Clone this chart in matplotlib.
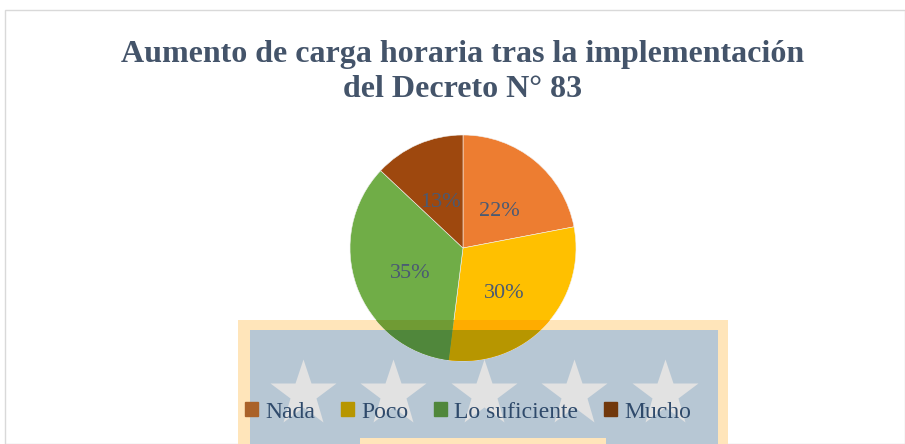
import matplotlib.pyplot as plt
from matplotlib.patches import Rectangle
import matplotlib.colors as mcolors

categorias = ["Nada", "Poco", "Lo suficiente", "Mucho"]
porcentajes = [22, 30, 35, 13]
colores = ["#ED7D31", "#FFC000", "#70AD47", "#9E480E"]
titulo = "Aumento de carga horaria tras la implementación\ndel Decreto N° 83"

W, H = 905, 444
plt.rcParams["font.family"] = ["Liberation Serif", "DejaVu Serif"]
fig = plt.figure(figsize=(W / 100, H / 100), dpi=100)


def fx(px):
    return px / W


def fy(py):
    return 1 - py / H


# marco del gráfico
fig.patches.append(Rectangle((fx(5), 0), fx(905) - fx(5), fy(10), transform=fig.transFigure,
                             facecolor="white", edgecolor="#D9D9D9", lw=1, zorder=-5))

# marca de agua (fondo)
naranja_claro = "#FFE5BA"
azul = "#B7C7D4"
fig.patches.append(Rectangle((fx(238), 0), fx(728) - fx(238), fy(320), transform=fig.transFigure,
                             facecolor=naranja_claro, edgecolor="none", zorder=-4))
fig.patches.append(Rectangle((fx(250), 0), fx(718) - fx(250), fy(330), transform=fig.transFigure,
                             facecolor=azul, edgecolor="none", zorder=-3))
fig.patches.append(Rectangle((fx(360), 0), fx(606) - fx(360), fy(438), transform=fig.transFigure,
                             facecolor=naranja_claro, edgecolor="none", zorder=-2))

ax_bg = fig.add_axes([0, 0, 1, 1])
ax_bg.set_xlim(0, W)
ax_bg.set_ylim(H, 0)
ax_bg.axis("off")
ax_bg.patch.set_alpha(0)
for x in [303, 393, 484, 574, 665]:
    ax_bg.plot(x, 394, marker="*", markersize=50, color="#E2E2E2", mec="none")

fig.text(fx(463), fy(72), titulo, ha="center", va="center", fontsize=23, fontweight="bold",
         color="#44546A", linespacing=1.3)

ax = fig.add_axes([fx(350), fy(361), fx(576) - fx(350), (361 - 135) / H])
ax.axis("off")
ax.patch.set_alpha(0)

wedges, _, autotexts = ax.pie(porcentajes, colors=colores, startangle=90, counterclock=False,
                              radius=1, autopct="%d%%", pctdistance=0.5,
                              wedgeprops=dict(edgecolor="#F2F2F2", linewidth=0.4),
                              textprops=dict(fontsize=16, color="#4A5A73"))
for t in autotexts:
    x, y = t.get_position()
    t.set_position((x, y - 0.06))
    t.set_zorder(10)


def multiplicar(c1, c2):
    a = mcolors.to_rgb(c1)
    b = mcolors.to_rgb(c2)
    return tuple(x * y for x, y in zip(a, b))


# parte del gráfico cubierta por la marca de agua
zonas = [(naranja_claro, (238, 320, 728)), (azul, (250, 330, 718))]
for tono, (x0, y0, x1) in zonas:
    ws, _ = ax.pie(porcentajes, colors=[multiplicar(c, tono) for c in colores], startangle=90,
                   counterclock=False, radius=1)
    clip = Rectangle((fx(x0), 0), fx(x1) - fx(x0), fy(y0), transform=fig.transFigure)
    for w in ws:
        w.set_clip_on(True)
        w.set_clip_path(clip)

ax.set_xlim(-1, 1)
ax.set_ylim(-1, 1)

handles = [Rectangle((0, 0), 1, 1, color=multiplicar(c, azul)) for c in colores]
fig.legend(handles, categorias, loc="center", bbox_to_anchor=(fx(468), fy(412)), ncol=4,
           frameon=False, fontsize=17, handlelength=0.55, handleheight=0.55, handletextpad=0.3,
           columnspacing=1.1, labelcolor="#2F4A6B")

fig.savefig("out.png", dpi=100)
